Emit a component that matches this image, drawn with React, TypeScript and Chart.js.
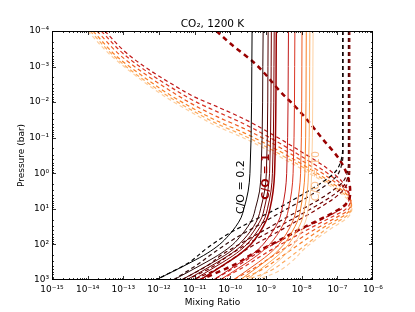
import React, { useEffect, useRef } from "react";
import { Chart, registerables } from "chart.js";

Chart.register(...registerables);

const FONT = "'DejaVu Sans', 'Liberation Sans', sans-serif";

const xTickExps = [-15, -14, -13, -12, -11, -10, -9, -8, -7, -6];
const xTickLabels = ["10⁻¹⁵", "10⁻¹⁴", "10⁻¹³", "10⁻¹²", "10⁻¹¹", "10⁻¹⁰", "10⁻⁹", "10⁻⁸", "10⁻⁷", "10⁻⁶"];
const yTickExps = [-4, -3, -2, -1, 0, 1, 2, 3];
const yTickLabels = ["10⁻⁴", "10⁻³", "10⁻²", "10⁻¹", "10⁰", "10¹", "10²", "10³"];

const lineColors = [
  "#000000", "#2e0a0a", "#520000", "#6e0000", "#800000", "#990000",
  "#c01818", "#d93322", "#ee5a22", "#f88028", "#fca95c", "#fdcfa0",
];

// log10(P / bar) grid for the solid (equilibrium) profiles
const solidLogP = [-4, 0, 0.5, 1, 1.25, 1.5, 1.75, 2, 2.25, 2.5, 3];
// log10(mixing ratio) per solid profile
const solid1 = [-9.39, -9.45, -9.5, -9.62, -9.7, -9.85, -10.05, -10.3, -10.65, -11.1, -12.09];
const solid2 = [-9.08, -9.14, -9.18, -9.3, -9.37, -9.51, -9.7, -9.93, -10.26, -10.68, -11.6];
const solid3 = [-8.94, -8.99, -9.04, -9.15, -9.22, -9.35, -9.53, -9.76, -10.07, -10.48, -11.37];
const solid4 = [-8.85, -8.9, -8.95, -9.05, -9.12, -9.26, -9.43, -9.65, -9.96, -10.36, -11.23];
const solid5 = [-8.77, -8.82, -8.86, -8.96, -9.03, -9.16, -9.33, -9.54, -9.83, -10.21, -11.04];
const solid6 = [-8.71, -8.76, -8.8, -8.89, -8.96, -9.08, -9.23, -9.43, -9.71, -10.07, -10.85];
const solid7 = [-8.37, -8.42, -8.46, -8.55, -8.61, -8.73, -8.89, -9.08, -9.35, -9.71, -10.48];
const solid8 = [-8.19, -8.24, -8.28, -8.37, -8.43, -8.55, -8.7, -8.9, -9.17, -9.52, -10.29];
const solid9 = [-7.99, -8.03, -8.07, -8.15, -8.21, -8.32, -8.46, -8.64, -8.89, -9.21, -9.92];
const solid10 = [-7.87, -7.91, -7.95, -8.03, -8.08, -8.19, -8.33, -8.5, -8.74, -9.05, -9.73];
const solid11 = [-7.77, -7.81, -7.84, -7.92, -7.97, -8.07, -8.21, -8.37, -8.6, -8.9, -9.55];
const solid12 = [-7.68, -7.72, -7.75, -7.82, -7.86, -7.95, -8.07, -8.22, -8.42, -8.69, -9.27];

// dashed (disequilibrium) profiles: [log10 mixing ratio, log10 P]
const dashed1 = [[-6.85, -4], [-6.85, -0.7], [-6.9, -0.35], [-7.05, -0.05], [-7.35, 0.2], [-7.9, 0.55], [-8.6, 0.95], [-9.3, 1.3], [-10.05, 1.7], [-10.65, 2.1], [-11.15, 2.5], [-12.09, 3]];
const dashed2 = [[-6.84, -4], [-6.84, -0.55], [-6.89, -0.2], [-7.02, 0.08], [-7.3, 0.32], [-7.85, 0.68], [-8.5, 1.05], [-9.2, 1.45], [-9.9, 1.85], [-10.45, 2.22], [-10.9, 2.55], [-11.6, 3]];
const dashed3 = [[-6.69, -4], [-6.69, -0.35], [-6.72, -0.02], [-6.85, 0.25], [-7.15, 0.5], [-7.7, 0.85], [-8.35, 1.2], [-9.05, 1.6], [-9.7, 1.97], [-10.25, 2.3], [-10.65, 2.6], [-11.37, 3]];
const dashed4 = [[-6.67, -4], [-6.67, -0.25], [-6.7, 0.08], [-6.82, 0.35], [-7.1, 0.6], [-7.6, 0.92], [-8.25, 1.28], [-8.95, 1.67], [-9.55, 2.0], [-10.1, 2.35], [-10.5, 2.63], [-11.23, 3]];
const dashed5 = [[-6.65, -4], [-6.65, -0.15], [-6.68, 0.18], [-6.8, 0.43], [-7.05, 0.67], [-7.5, 0.97], [-8.15, 1.35], [-8.8, 1.72], [-9.4, 2.05], [-9.9, 2.38], [-10.3, 2.65], [-11.04, 3]];
const dashed6 = [[-10.39, -4], [-10.0, -3.65], [-9.27, -3.05], [-8.6, -2.3], [-8.05, -1.74], [-7.4, -0.95], [-6.95, -0.4], [-6.74, 0.0], [-6.65, 0.35], [-6.64, 0.55], [-6.68, 0.75], [-6.82, 0.92], [-7.1, 1.1], [-7.5, 1.3], [-8.1, 1.6], [-8.75, 1.95], [-9.35, 2.25], [-9.85, 2.55], [-10.85, 3]];
const dashed7 = [[-13.52, -4], [-12.91, -3.38], [-12.35, -2.96], [-11.69, -2.54], [-10.95, -2.12], [-10.39, -1.88], [-9.6, -1.52], [-8.8, -1.08], [-8.0, -0.6], [-7.3, -0.15], [-6.88, 0.22], [-6.7, 0.48], [-6.66, 0.65], [-6.7, 0.82], [-6.85, 0.98], [-7.15, 1.15], [-7.5, 1.33], [-8.0, 1.58], [-8.65, 1.92], [-9.25, 2.25], [-9.8, 2.6], [-10.48, 3]];
const dashed8 = [[-13.62, -4], [-13.0, -3.36], [-12.4, -2.9], [-11.7, -2.44], [-10.95, -2.0], [-10.39, -1.74], [-9.6, -1.38], [-8.8, -0.95], [-8.0, -0.47], [-7.3, -0.02], [-6.87, 0.33], [-6.68, 0.57], [-6.64, 0.73], [-6.67, 0.9], [-6.82, 1.05], [-7.1, 1.2], [-7.45, 1.38], [-7.9, 1.62], [-8.5, 1.95], [-9.1, 2.3], [-9.6, 2.62], [-10.29, 3]];
const dashed9 = [[-13.74, -4], [-13.1, -3.33], [-12.45, -2.83], [-11.7, -2.33], [-10.95, -1.88], [-10.39, -1.6], [-9.6, -1.25], [-8.8, -0.83], [-8.0, -0.36], [-7.3, 0.08], [-6.86, 0.41], [-6.66, 0.64], [-6.62, 0.8], [-6.65, 0.97], [-6.78, 1.1], [-7.05, 1.25], [-7.35, 1.42], [-7.75, 1.65], [-8.3, 2.0], [-8.85, 2.35], [-9.3, 2.65], [-9.92, 3]];
const dashed10 = [[-13.85, -4], [-13.2, -3.3], [-12.5, -2.76], [-11.75, -2.24], [-10.95, -1.77], [-10.39, -1.48], [-9.6, -1.13], [-8.8, -0.72], [-8.0, -0.26], [-7.3, 0.17], [-6.85, 0.49], [-6.65, 0.7], [-6.61, 0.86], [-6.64, 1.02], [-6.76, 1.15], [-7.0, 1.3], [-7.3, 1.47], [-7.65, 1.7], [-8.15, 2.05], [-8.65, 2.4], [-9.1, 2.7], [-9.73, 3]];
const dashed11 = [[-13.93, -4], [-13.3, -3.33], [-12.6, -2.75], [-11.8, -2.2], [-10.95, -1.7], [-10.39, -1.4], [-9.6, -1.05], [-8.8, -0.64], [-8.0, -0.19], [-7.3, 0.23], [-6.85, 0.55], [-6.64, 0.76], [-6.6, 0.92], [-6.63, 1.07], [-6.74, 1.2], [-6.97, 1.35], [-7.25, 1.52], [-7.55, 1.75], [-8.0, 2.1], [-8.45, 2.45], [-8.9, 2.75], [-9.55, 3]];
const dashed12 = [[-14.0, -4], [-13.4, -3.36], [-12.7, -2.78], [-11.9, -2.2], [-11.0, -1.66], [-10.39, -1.33], [-9.6, -0.98], [-8.8, -0.57], [-8.0, -0.12], [-7.3, 0.29], [-6.85, 0.61], [-6.63, 0.82], [-6.59, 0.98], [-6.62, 1.12], [-6.72, 1.25], [-6.93, 1.4], [-7.2, 1.57], [-7.55, 1.82], [-7.95, 2.15], [-8.3, 2.5], [-8.7, 2.78], [-9.27, 3]];

const solidSeries = [solid1, solid2, solid3, solid4, solid5, solid6, solid7, solid8, solid9, solid10, solid11, solid12];
const dashedSeries = [dashed1, dashed2, dashed3, dashed4, dashed5, dashed6, dashed7, dashed8, dashed9, dashed10, dashed11, dashed12];

// annotations: text, color, bold, [log10 x, log10 P] of text centre
const annoTexts = ["C/O = 0.2", "C/O = 1", "C/O = 10"];
const annoColors = ["#000000", "#990000", "#fbbf8c"];
const annoBold = [false, true, false];
const annoPos = [[-9.7, 0.39], [-9.0, 0.1], [-7.6, 0.08]];

const frameTicks = {
  id: "frameTicks",
  afterDatasetsDraw(chart: any) {
    const { ctx, chartArea: a, scales } = chart;
    const xs = scales.x;
    const ys = scales.y;
    ctx.save();
    // annotations
    annoTexts.forEach((t, i) => {
      const px = xs.getPixelForValue(Math.pow(10, annoPos[i][0]));
      const py = ys.getPixelForValue(Math.pow(10, annoPos[i][1]));
      ctx.save();
      ctx.translate(px, py);
      ctx.rotate(-Math.PI / 2);
      ctx.fillStyle = annoColors[i];
      ctx.font = `${annoBold[i] ? "bold " : ""}11px ${FONT}`;
      ctx.textAlign = "center";
      ctx.textBaseline = "middle";
      ctx.fillText(t, 0, 0);
      ctx.restore();
    });
    // frame
    ctx.strokeStyle = "#000";
    ctx.lineWidth = 1;
    ctx.strokeRect(Math.round(a.left) + 0.5, Math.round(a.top) + 0.5, Math.round(a.right - a.left) - 1, Math.round(a.bottom - a.top) - 1);
    // ticks
    ctx.lineWidth = 0.8;
    ctx.beginPath();
    for (let e = -15; e < -6; e++) {
      for (let k = 1; k <= 9; k++) {
        const v = k * Math.pow(10, e);
        const p = Math.round(xs.getPixelForValue(v)) + 0.5;
        const len = k === 1 ? 4 : 2;
        ctx.moveTo(p, a.bottom); ctx.lineTo(p, a.bottom - len);
        ctx.moveTo(p, a.top); ctx.lineTo(p, a.top + len);
      }
    }
    for (let e = -4; e < 3; e++) {
      for (let k = 1; k <= 9; k++) {
        const v = k * Math.pow(10, e);
        const p = Math.round(ys.getPixelForValue(v)) + 0.5;
        const len = k === 1 ? 4 : 2;
        ctx.moveTo(a.left, p); ctx.lineTo(a.left + len, p);
        ctx.moveTo(a.right, p); ctx.lineTo(a.right - len, p);
      }
    }
    ctx.stroke();
    // titles
    ctx.fillStyle = "#000";
    ctx.textAlign = "center";
    ctx.textBaseline = "alphabetic";
    ctx.font = `10.5px ${FONT}`;
    ctx.fillText("CO₂, 1200 K", (a.left + a.right) / 2, 27);
    ctx.font = `9px ${FONT}`;
    ctx.fillText("Mixing Ratio", (a.left + a.right) / 2, 305);
    ctx.save();
    ctx.translate(24, (a.top + a.bottom) / 2);
    ctx.rotate(-Math.PI / 2);
    ctx.fillText("Pressure (bar)", 0, 0);
    ctx.restore();
    ctx.restore();
  },
};

export default function App() {
  const ref = useRef<HTMLCanvasElement | null>(null);
  useEffect(() => {
    if (!ref.current) return;
    const datasets: any[] = [];
    solidSeries.forEach((s, i) => {
      datasets.push({
        label: `solid ${i + 1}`,
        data: s.map((lx, j) => ({ x: Math.pow(10, lx), y: Math.pow(10, solidLogP[j]) })),
        borderColor: lineColors[i],
        borderWidth: i === 5 ? 1.5 : 1,
        pointRadius: 0,
        fill: false,
        cubicInterpolationMode: "monotone",
      });
    });
    dashedSeries.forEach((s, i) => {
      datasets.push({
        label: `dashed ${i + 1}`,
        data: s.map((pt) => ({ x: Math.pow(10, pt[0]), y: Math.pow(10, pt[1]) })),
        borderColor: lineColors[i],
        borderWidth: i === 5 ? 2.5 : 1.2,
        borderDash: i === 5 ? [5, 4] : [4, 3],
        pointRadius: 0,
        fill: false,
        cubicInterpolationMode: "monotone",
      });
    });
    const tickFont = { family: FONT, size: 9 };
    const chart = new Chart(ref.current, {
      type: "line",
      data: { datasets },
      options: {
        indexAxis: "y",
        animation: false,
        responsive: false,
        devicePixelRatio: 1,
        layout: { padding: { left: 0, top: 31, right: 42, bottom: 0 } },
        plugins: { legend: { display: false }, tooltip: { enabled: false }, title: { display: false } },
        scales: {
          x: {
            type: "logarithmic",
            position: "bottom",
            min: 1e-15,
            max: 1e-6,
            afterBuildTicks: (s: any) => { s.ticks = xTickExps.map((e) => ({ value: Math.pow(10, e) })); },
            afterFit: (s: any) => { s.height = 32; },
            ticks: {
              autoSkip: false,
              maxRotation: 0,
              padding: 4,
              color: "#000",
              font: tickFont,
              callback: (_v: any, i: number) => xTickLabels[i],
            },
            grid: { display: false, drawTicks: false },
            border: { display: false },
          },
          y: {
            type: "logarithmic",
            position: "left",
            reverse: true,
            min: 1e-4,
            max: 1e3,
            afterBuildTicks: (s: any) => { s.ticks = yTickExps.map((e) => ({ value: Math.pow(10, e) })); },
            afterFit: (s: any) => { s.width = 52; },
            ticks: {
              autoSkip: false,
              padding: 3,
              color: "#000",
              font: tickFont,
              callback: (_v: any, i: number) => yTickLabels[i],
            },
            grid: { display: false, drawTicks: false },
            border: { display: false },
          },
        },
      } as any,
      plugins: [frameTicks],
    });
    return () => chart.destroy();
  }, []);
  return (
    <div style={{ position: "fixed", left: 0, top: 0, width: 415, height: 312, background: "#fff" }}>
      <canvas ref={ref} width={415} height={312} style={{ display: "block" }} />
    </div>
  );
}
